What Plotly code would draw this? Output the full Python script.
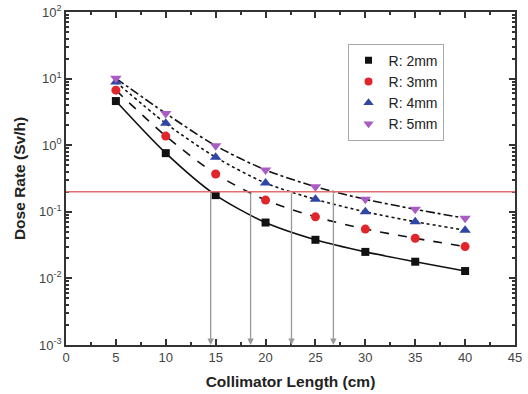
import plotly.graph_objects as go
import math

lengths = [5, 10, 15, 20, 25, 30, 35, 40]
r2 = [4.6, 0.76, 0.178, 0.069, 0.038, 0.025, 0.0178, 0.0129]
r3 = [6.7, 1.37, 0.37, 0.15, 0.084, 0.055, 0.040, 0.030]
r4 = [8.9, 2.13, 0.66, 0.27, 0.154, 0.100, 0.071, 0.053]
r5 = [10.1, 3.0, 0.98, 0.425, 0.238, 0.154, 0.109, 0.080]
series_names = ["R: 2mm", "R: 3mm", "R: 4mm", "R: 5mm"]
limit = 0.2
cross_x = [14.5, 18.5, 22.6, 26.8]
y_exponents = [-3, -2, -1, 0, 1, 2]

colors = ["#111111", "#e0262b", "#2f46a6", "#a85cc4"]
symbols = ["square", "circle", "triangle-up", "triangle-down"]
sizes = [8, 9, 10, 10]
legend_sizes = [7, 8, 9, 9]
dashes = ["solid", "dash", "dot", "dashdot"]

fig = go.Figure()
for vals, d in zip([r2, r3, r4, r5], dashes):
    fig.add_trace(go.Scatter(x=lengths, y=vals, mode="lines", showlegend=False,
                             line=dict(color="#111111", width=1.6, dash=d, shape="spline", smoothing=0.8),
                             hoverinfo="skip"))
for vals, name, c, s, sz in zip([r2, r3, r4, r5], series_names, colors, symbols, sizes):
    fig.add_trace(go.Scatter(x=lengths, y=vals, mode="markers", name=name, showlegend=False,
                             legendgroup=name,
                             marker=dict(color=c, symbol=s, size=sz, line=dict(width=0))))
for name, c, s, sz in zip(series_names, colors, symbols, legend_sizes):
    fig.add_trace(go.Scatter(x=[None], y=[None], mode="markers", name=name, legendgroup=name,
                             marker=dict(color=c, symbol=s, size=sz, line=dict(width=0))))

fig.add_shape(type="line", xref="paper", x0=0, x1=1, yref="y", y0=limit, y1=limit,
              line=dict(color="#e07070", width=1.5))

for cx in cross_x:
    fig.add_annotation(x=cx, y=-3, ax=cx, ay=math.log10(limit), xref="x", yref="y",
                       axref="x", ayref="y", showarrow=True, arrowhead=2, arrowsize=1,
                       arrowwidth=1.3, arrowcolor="#999999", text="")

axis_common = dict(showline=True, linecolor="#333333", linewidth=1.6, mirror="ticks",
                   ticks="inside", tickcolor="#333333", showgrid=False, zeroline=False,
                   automargin=False,
                   tickfont=dict(family="Liberation Sans, Arial", size=13, color="#444444"))

yticks = [10.0 ** e for e in y_exponents]
ytext = ["10<sup>%d</sup>" % e for e in y_exponents]
yminor = [m * 10.0 ** e for e in y_exponents[:-1] for m in range(2, 10)]

fig.update_xaxes(range=[0, 45], dtick=5, tick0=0, ticklen=6, tickwidth=1.5,
                 minor=dict(dtick=2.5, tick0=0, ticks="inside", ticklen=3, tickcolor="#333333"),
                 title=dict(text="<b>Collimator Length (cm)</b>", standoff=12,
                            font=dict(family="Liberation Sans, Arial", size=15.5, color="#222222")),
                 **axis_common)
fig.update_yaxes(type="log", range=[-3, 2], tickvals=yticks, ticktext=ytext, ticklen=6, tickwidth=1.5,
                 minor=dict(tickvals=yminor, ticks="inside", ticklen=3, tickcolor="#333333"),
                 title=dict(text="<b>Dose Rate (Sv/h)</b>", standoff=10,
                            font=dict(family="Liberation Sans, Arial", size=15.5, color="#222222")),
                 **axis_common)

fig.update_layout(width=528, height=394, margin=dict(l=66, r=13, t=12, b=49),
                  plot_bgcolor="white", paper_bgcolor="white",
                  legend=dict(x=0.627, y=0.905, xanchor="left", yanchor="top",
                              bgcolor="white", bordercolor="#aaaaaa", borderwidth=1,
                              font=dict(family="Liberation Sans, Arial", size=14, color="#222222"),
                              itemsizing="trace", tracegroupgap=0, itemwidth=30))
fig.write_html("out.html", config={"displayModeBar": False},
               post_script="document.body.style.margin='0';document.body.style.padding='0';")
